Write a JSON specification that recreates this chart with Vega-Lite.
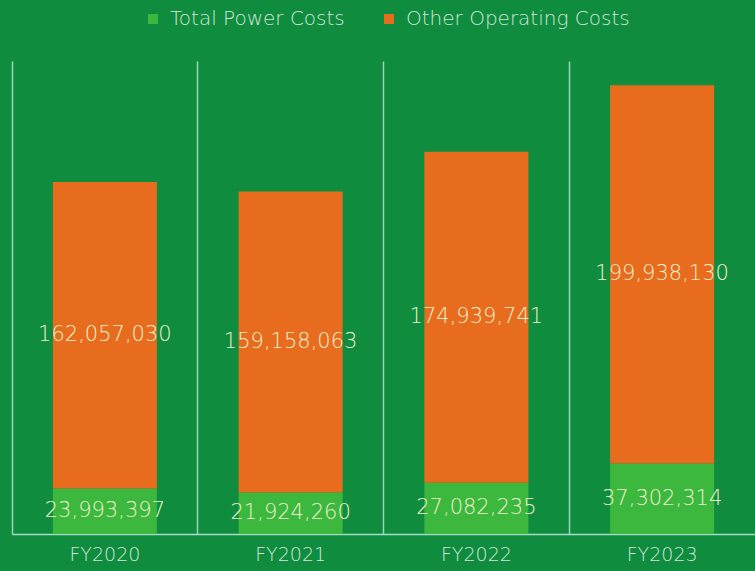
{
  "$schema": "https://vega.github.io/schema/vega-lite/v6.json",
  "autosize": "none",
  "width": 743,
  "height": 473,
  "padding": {"left": 12, "top": 61, "right": 0, "bottom": 37},
  "background": "#0f8c3d",
  "config": {"view": {"stroke": null}, "font": "DejaVu Sans"},
  "data": {"values": [
    {"year": "FY2020", "category": "Total Power Costs", "value": 23993397},
    {"year": "FY2020", "category": "Other Operating Costs", "value": 162057030},
    {"year": "FY2021", "category": "Total Power Costs", "value": 21924260},
    {"year": "FY2021", "category": "Other Operating Costs", "value": 159158063},
    {"year": "FY2022", "category": "Total Power Costs", "value": 27082235},
    {"year": "FY2022", "category": "Other Operating Costs", "value": 174939741},
    {"year": "FY2023", "category": "Total Power Costs", "value": 37302314},
    {"year": "FY2023", "category": "Other Operating Costs", "value": 199938130}
  ]},
  "transform": [
    {"stack": "value", "groupby": ["year"], "sort": [{"field": "category", "order": "descending"}], "as": ["v0", "v1"]},
    {"calculate": "(datum.v0 + datum.v1) / 2", "as": "mid"}
  ],
  "encoding": {
    "x": {
      "field": "year", "type": "nominal",
      "scale": {"paddingInner": 0, "paddingOuter": 0},
      "axis": {
        "title": null, "labelAngle": 0, "bandPosition": 0,
        "grid": true, "gridColor": "#a9dccb", "gridWidth": 1.5, "gridOpacity": 0.9,
        "ticks": false, "domain": true, "domainColor": "#a9dccb", "domainWidth": 1.5,
        "labelColor": "#cfe6dc", "labelFontSize": 19, "labelFontWeight": 200, "labelPadding": 11, "labelFont": "DejaVu Sans"
      }
    }
  },
  "layer": [
    {
      "mark": {"type": "bar", "width": {"band": 0.56}},
      "encoding": {
        "y": {"field": "v0", "type": "quantitative", "scale": {"domain": [0, 250000000], "nice": false, "zero": true}, "axis": null},
        "y2": {"field": "v1"},
        "color": {
          "field": "category", "type": "nominal",
          "scale": {"domain": ["Total Power Costs", "Other Operating Costs"], "range": ["#3cb83e", "#e86c1e"]},
          "legend": {
            "title": null, "orient": "none", "direction": "horizontal",
            "legendX": 131, "legendY": -52,
            "symbolType": "square", "symbolSize": 100, "symbolStrokeWidth": 0,
            "labelColor": "#cfe6dc", "labelFontSize": 20, "labelFont": "DejaVu Sans", "labelFontWeight": 200,
            "labelLimit": 400, "columnPadding": 34, "labelOffset": 7
          }
        }
      }
    },
    {
      "mark": {"type": "text", "fontSize": 21, "fontWeight": 200, "color": "#eef0cc", "baseline": "middle", "align": "center"},
      "encoding": {
        "y": {"field": "mid", "type": "quantitative"},
        "text": {"field": "value", "type": "quantitative", "format": ","}
      }
    }
  ]
}
